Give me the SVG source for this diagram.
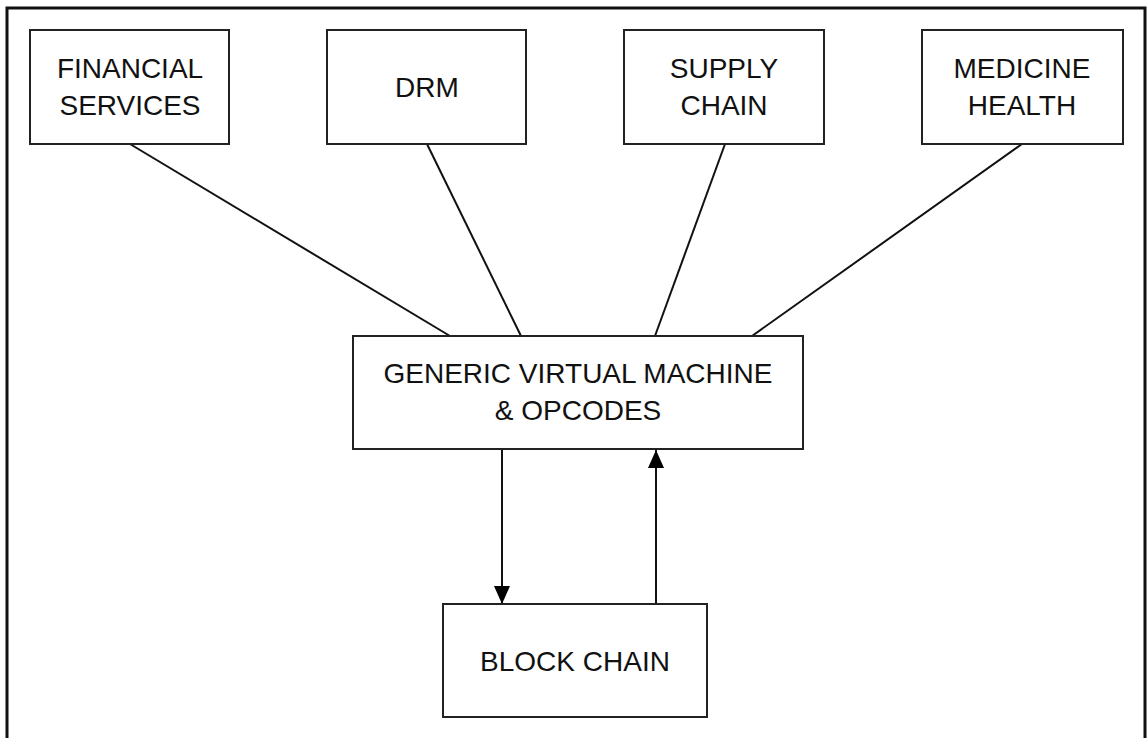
<svg xmlns="http://www.w3.org/2000/svg" width="1147" height="738" viewBox="0 0 1147 738">
<style>
.box{fill:#fff;stroke:#222;stroke-width:2}
.lbl{font-family:"Liberation Sans",Arial,sans-serif;font-size:28px;fill:#111;text-anchor:middle}
.ln{stroke:#111;stroke-width:2;fill:none}
</style>
<defs>
<marker id="ah" viewBox="0 0 18 16" refX="18" refY="8" markerWidth="18" markerHeight="16" markerUnits="userSpaceOnUse" orient="auto">
<path d="M0,0 L18,8 L0,16 Z" fill="#000"/>
</marker>
</defs>
<rect width="1147" height="738" fill="#fff"/>
<path d="M7,738 L7,8 L1145,8 L1145,738" fill="none" stroke="#111" stroke-width="3"/>
<g id="connectors">
<line class="ln" x1="130" y1="144" x2="450" y2="336"/>
<line class="ln" x1="427" y1="144" x2="521" y2="336"/>
<line class="ln" x1="725" y1="144" x2="655" y2="336"/>
<line class="ln" x1="1022" y1="144" x2="752" y2="336"/>
<line class="ln" x1="502" y1="450" x2="502" y2="604" marker-end="url(#ah)"/>
<line class="ln" x1="656" y1="604" x2="656" y2="450" marker-end="url(#ah)"/>
</g>
<g id="financial">
<rect class="box" x="30" y="30" width="199" height="114"/>
<text class="lbl" x="130" y="78">FINANCIAL</text>
<text class="lbl" x="130" y="115">SERVICES</text>
</g>
<g id="drm">
<rect class="box" x="327" y="30" width="199" height="114"/>
<text class="lbl" x="427" y="97">DRM</text>
</g>
<g id="supply">
<rect class="box" x="624" y="30" width="200" height="114"/>
<text class="lbl" x="724" y="78">SUPPLY</text>
<text class="lbl" x="724" y="115">CHAIN</text>
</g>
<g id="medicine">
<rect class="box" x="922" y="30" width="201" height="114"/>
<text class="lbl" x="1022" y="78">MEDICINE</text>
<text class="lbl" x="1022" y="115">HEALTH</text>
</g>
<g id="gvm">
<rect class="box" x="353" y="336" width="450" height="113"/>
<text class="lbl" x="578" y="383">GENERIC VIRTUAL MACHINE</text>
<text class="lbl" x="578" y="420">&amp; OPCODES</text>
</g>
<g id="blockchain">
<rect class="box" x="443" y="604" width="264" height="113"/>
<text class="lbl" x="575" y="671">BLOCK CHAIN</text>
</g>
</svg>
